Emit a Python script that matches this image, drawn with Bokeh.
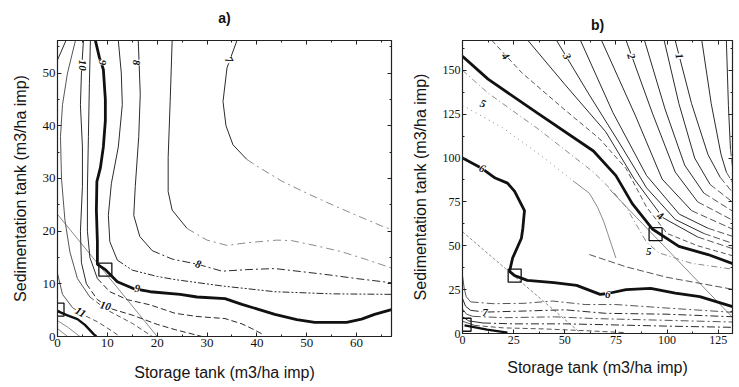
from math import pi
from bokeh.plotting import figure
from bokeh.models import Range1d, LinearAxis, SingleIntervalTicker, ColumnDataSource, LabelSet
from bokeh.layouts import row
from bokeh.embed import file_html
from bokeh.resources import INLINE

# ---------------- Panel a data (storage x, sedimentation y) ----------------
a_xmax, a_ymax = 67, 56.2
a_title = "a)"
a_c11_top = [(0, 52.5), (1.7, 56.2)]
a_c105 = [(3.6, 56.2), (2.0, 50), (1.0, 44), (0.6, 38), (0.8, 30), (1.5, 22), (2.5, 16), (4.0, 11),
          (6.5, 7.5), (10, 5), (15, 2.5), (19, 0)]
a_c10 = [(5.2, 56.2), (4.8, 50), (4.6, 44), (5.0, 36), (5.0, 28.5), (4.6, 20), (4.8, 14), (5.8, 10),
         (8, 7), (11, 5.2), (15.2, 4), (20, 2.3), (23.6, 1.3), (29, 0)]
a_c95 = [(6.6, 56.2), (6.4, 48), (6.2, 38), (6.0, 28), (6.0, 20), (6.5, 15), (8, 11), (10.5, 8.5),
         (14, 7), (18.6, 6), (23.6, 4.4), (28, 3.8), (33.6, 3.4), (37, 2.4), (39, 1.5), (41, 0.5)]
a_c9 = [(7.6, 56.2), (8.4, 53), (9.2, 50.7), (9.6, 45), (9.6, 41), (9.2, 36), (8.6, 32), (7.9, 29.4),
        (7.8, 24), (8, 18), (8, 13.7), (9.6, 12.7), (12, 10.4), (15.2, 9.1), (18.6, 8.5), (24.6, 8),
        (28, 7.5), (33.6, 7.2), (37, 6.1), (43.6, 4.2), (48, 3.2), (51.6, 2.7), (58, 2.7), (61, 3.3),
        (63.6, 4.2), (67, 5.1)]
a_c85 = [(12.2, 56.2), (12.8, 50), (13, 44), (12.2, 36), (10.8, 29), (10.2, 23), (10.5, 18), (12, 14.5),
         (15, 12.6), (20, 11.4), (23.6, 10.8), (33, 9.6), (43.6, 8.5), (55, 8.1), (67, 8)]
a_c8 = [(16.2, 56.2), (16.6, 46), (16.3, 38), (15.6, 28.5), (15.3, 23), (16.5, 19), (19, 16.3), (23, 14.7),
        (28.2, 13.7), (33, 12.4), (38, 12.7), (43.6, 12.9), (53.6, 11.8), (60, 11), (67, 10.2)]
a_c75 = [(23, 56.2), (22.6, 44.6), (22.2, 34), (22.2, 27.5), (23, 24), (26, 20.5), (30, 18.3), (34, 17.3),
         (38, 17.8), (44, 18.3), (47, 18.2), (52, 17.2), (57, 16.1), (62, 14.6), (67, 13)]
a_c7 = [(36, 56.2), (34, 51), (33.2, 44.6), (33.8, 40), (35.2, 36.4), (38, 33.6), (40.6, 32), (45, 29.5),
        (50, 27.2), (55.6, 24.8), (60, 23), (65, 21), (67, 20.3)]
a_c11 = [(0, 12), (1, 8), (3, 5.5), (5, 4.2), (8, 2.8), (11, 1), (12.5, 0)]
a_c12 = [(0, 4.8), (2, 4), (4, 3.3), (5.5, 2.2), (7.3, 0.4), (7.8, 0)]
a_c125 = [(0, 3), (2, 1.8), (4.5, 0)]
a_c13 = [(0, 1.5), (2, 0)]
a_diag = [(0, 23.2), (20, 0)]
a_box_x = [0, 9.6]
a_box_y = [5.1, 12.7]
a_lab_text = ["10", "9", "8", "7", "8", "9", "10", "11"]
a_lab_x = [5.0, 9.0, 15.9, 34.4, 28.2, 16.0, 9.6, 4.6]
a_lab_y = [51.5, 52.0, 52.0, 52.5, 13.7, 9.1, 5.8, 4.6]
a_lab_ang = [-pi / 2, -pi / 2, -pi / 2, -1.1, -0.3, -0.1, -0.25, -0.5]

# ---------------- Panel b data ----------------
b_xmax, b_ymax = 132, 167
b_title = "b)"
b_L1 = [(129, 167), (130, 130), (131, 105), (132, 95)]
b_L2 = [(117, 167), (121.6, 131), (126.4, 102), (129, 92), (133, 84)]
b_L3 = [(104, 167), (112, 131), (120, 102), (126, 89), (133, 79)]
b_L4 = [(98.6, 167), (105.8, 131), (113.5, 100), (121, 85), (133, 74)]
b_L5 = [(89, 167), (99, 128), (108.6, 96), (118, 80), (133, 69)]
b_L6 = [(80, 167), (92.8, 125.7), (104, 92), (115, 75), (133, 64)]
b_L7 = [(68, 167), (84.6, 124), (97.6, 88), (112, 70), (133, 59)]
b_L8 = [(57.7, 167), (73.5, 126), (90, 90), (106, 68), (120, 60), (133, 55)]
b_L9 = [(46, 167), (62, 136), (77, 108), (90, 83), (104, 65), (118, 57), (133, 51)]
b_L10 = [(32, 167), (50, 142), (70, 115), (84, 88), (98, 66), (115, 55), (133, 48)]
b_Ga = [(14.4, 167), (29, 148.6), (49.5, 128), (67, 111), (80, 94), (90, 72), (100, 57), (115, 50), (133, 44)]
b_c4 = [(0, 158), (12.5, 145), (36.5, 125.7), (64, 104), (75, 90), (83, 74), (93, 59.4), (105.8, 49.7),
        (120, 45), (133, 39.4)]
b_c5 = [(0, 150), (12.5, 137), (36.5, 117), (64, 92), (73.5, 81), (80, 72), (86, 60), (90, 52), (96, 46),
        (112, 40), (133, 36.5)]
b_c55 = [(0, 130), (20, 117), (40, 100), (54, 87), (62, 80), (66, 72), (69, 64), (71, 57), (73, 50), (75, 43)]
b_c57 = [(62, 45), (80, 38), (100, 32), (133, 25)]
b_c6 = [(0, 100), (9.6, 94), (16, 88.6), (22, 85.7), (25.5, 81), (30.3, 70), (29.5, 60), (28.8, 54.3),
        (24.5, 43), (23, 35.4), (25.5, 33), (31.7, 30.3), (44.7, 29), (55.8, 27.4), (67.3, 22.3), (71, 22.8),
        (80, 25), (92, 25.7), (104, 23), (116, 21), (133, 15)]
b_c65 = [(0, 33), (0.8, 26), (1.8, 21), (4, 18), (15, 17), (30, 17.2), (44, 18.5), (60, 16.5), (75, 16.5),
         (100, 14.5), (133, 12)]
b_c7 = [(0, 20), (1.5, 15.5), (4, 13.2), (11, 12.2), (30, 12.8), (50, 13.5), (70, 11.5), (100, 11), (133, 9.5)]
b_c75 = [(0, 14), (2, 11), (5, 9.8), (20, 9), (45, 9.5), (65, 8.5), (100, 7.5), (133, 6.5)]
b_c8 = [(0, 9.5), (3, 7.2), (10, 6), (25, 5.5), (50, 5.5), (70, 5), (100, 4.2), (133, 3.5)]
b_c85 = [(0, 7), (6, 4.6), (20, 3.2), (40, 2.6), (60, 1.6), (80, 0.5)]
b_c9 = [(1, 4.6), (5, 3.8), (12, 2.2), (22, 0.5)]
b_diag1 = [(0, 58), (58, 0)]
b_diag2 = [(72, 82), (133, 8)]
b_box_x = [1, 25.5, 94.4]
b_box_y = [5, 33, 56.6]
b_lab_text = ["4", "3", "2", "1", "5", "6", "6", "7", "4", "5"]
b_lab_x = [21, 51, 82.5, 106, 10, 9.6, 71, 11, 96.6, 91]
b_lab_y = [158, 158, 158, 158, 131, 94, 22.5, 12.2, 67, 47]
b_lab_ang = [-0.9, -1.1, -1.25, -1.35, -0.3, -0.4, 0.0, 0.0, -0.5, 0.0]

TICK_FONT = "Liberation Serif"
LABEL_FONT = "Liberation Sans"
DARK = "#2b2b2b"
MID = "#555555"
LIGHT = "#8a8a8a"


def draw(p, pts, color, width, dash="solid", split=None, dash2="solid", color2=None):
    xs = [q[0] for q in pts]
    ys = [q[1] for q in pts]
    if split is None:
        p.line(xs, ys, line_color=color, line_width=width, line_dash=dash)
    else:
        p.line(xs[:split + 1], ys[:split + 1], line_color=color, line_width=width, line_dash=dash)
        p.line(xs[split:], ys[split:], line_color=color2 or color, line_width=width, line_dash=dash2)


def make_fig(title, xmax, ymax, fw, fh, bl, br, bt, bb, interval, tick_size,
             xlab_standoff, ylab_standoff, title_standoff):
    p = figure(frame_width=fw, frame_height=fh,
               x_range=Range1d(0, xmax), y_range=Range1d(0, ymax),
               output_backend="svg", toolbar_location=None,
               min_border_left=bl, min_border_right=br, min_border_top=bt, min_border_bottom=bb)
    p.xgrid.visible = False
    p.ygrid.visible = False
    p.outline_line_color = "#222222"
    p.outline_line_width = 1.2
    p.background_fill_color = "white"
    p.border_fill_color = "white"
    for ax in (p.xaxis[0], p.yaxis[0]):
        ax.ticker = SingleIntervalTicker(interval=interval, num_minor_ticks=2)
        ax.major_label_text_font = TICK_FONT
        ax.major_label_text_font_size = tick_size
        ax.major_label_text_color = "#111111"
        ax.major_tick_in = 4
        ax.major_tick_out = 0
        ax.minor_tick_in = 2
        ax.minor_tick_out = 0
        ax.axis_line_color = "#222222"
        ax.major_tick_line_color = "#222222"
        ax.minor_tick_line_color = "#222222"
        ax.major_label_standoff = 2
        ax.axis_label_text_font = LABEL_FONT
        ax.axis_label_text_font_style = "normal"
        ax.axis_label_text_font_size = "16px"
        ax.axis_label_text_color = "#151515"
    p.xaxis.axis_label = "Storage tank (m3/ha imp)"
    p.yaxis.axis_label = "Sedimentation tank (m3/ha imp)"
    p.xaxis.axis_label_standoff = xlab_standoff
    p.yaxis.axis_label_standoff = ylab_standoff
    for loc in ("above", "right"):
        ax = LinearAxis(ticker=SingleIntervalTicker(interval=interval, num_minor_ticks=2),
                        major_label_text_font_size="0px", major_label_text_color=None,
                        major_label_standoff=0, axis_label_standoff=0,
                        major_tick_in=4, major_tick_out=0, minor_tick_in=2, minor_tick_out=0,
                        axis_line_color="#222222", major_tick_line_color="#222222",
                        minor_tick_line_color="#222222")
        if loc == "above":
            ax.axis_label = title
            ax.axis_label_standoff = title_standoff
            ax.axis_label_text_font = LABEL_FONT
            ax.axis_label_text_font_size = "14px"
            ax.axis_label_text_font_style = "bold"
            ax.axis_label_text_color = "#111111"
        p.add_layout(ax, loc)
    return p


def add_labels(p, xs, ys, texts, angs, size):
    src = ColumnDataSource(dict(x=xs, y=ys, text=texts, angle=angs))
    p.add_layout(LabelSet(x="x", y="y", text="text", angle="angle", source=src,
                          text_font=TICK_FONT, text_font_size=size, text_font_style="bold italic",
                          text_color="#111111", text_align="center", text_baseline="middle",
                          background_fill_color="white", background_fill_alpha=1.0))


# ---------------- Panel a ----------------
pa = make_fig(a_title, a_xmax, a_ymax, 334, 296, 57, 9, 37, 52, 10, "13px", 14, 11, 15)
draw(pa, a_diag, LIGHT, 1)
draw(pa, a_c11_top, DARK, 1)
draw(pa, a_c105, MID, 1, "solid", 8, "5 3")
draw(pa, a_c10, DARK, 1, "solid", 7, "6 3")
draw(pa, a_c95, DARK, 1, "solid", 6, "6 3")
draw(pa, a_c9, "#111111", 2.8)
draw(pa, a_c85, DARK, 1, "solid", 7, "7 2 2 2 2 2")
draw(pa, a_c8, DARK, 1, "solid", 6, "8 3 2 3")
draw(pa, a_c75, DARK, 1, "solid", 5, "8 4 2 4", LIGHT)
draw(pa, a_c7, DARK, 1, "solid", 5, "8 4 2 4", LIGHT)
draw(pa, a_c11, MID, 1, "solid", 2, "5 3")
draw(pa, a_c12, "#111111", 2.4)
draw(pa, a_c125, LIGHT, 1)
draw(pa, a_c13, LIGHT, 1)
pa.scatter(a_box_x, a_box_y, marker="square", size=13, fill_color=None, line_color="#111111", line_width=1.3)
add_labels(pa, a_lab_x, a_lab_y, a_lab_text, a_lab_ang, "11px")

# ---------------- Panel b ----------------
pb = make_fig(b_title, b_xmax, b_ymax, 270, 293, 62, 2, 40, 52, 25, "12px", 12, 11, 8)
draw(pb, b_diag1, LIGHT, 1, "3 2")
draw(pb, b_diag2, LIGHT, 1)
for line in (b_L1, b_L2, b_L3, b_L4, b_L5, b_L6, b_L7, b_L8, b_L9, b_L10):
    draw(pb, line, DARK, 1, "solid", len(line) - 2, "7 3", MID)
draw(pb, b_Ga, MID, 1, "5 3")
draw(pb, b_c4, "#111111", 2.8)
draw(pb, b_c5, LIGHT, 1, "6 3 1 3")
draw(pb, b_c55, LIGHT, 1, "1 4", 3, "solid")
draw(pb, b_c57, MID, 1, "7 3")
draw(pb, b_c6, "#111111", 2.8)
draw(pb, b_c65, MID, 1, "solid", 3, "8 3 2 3")
draw(pb, b_c7, DARK, 1, "solid", 2, "8 3 2 3")
draw(pb, b_c75, MID, 1, "solid", 2, "8 3 2 3")
draw(pb, b_c8, DARK, 1, "solid", 2, "8 3 2 3")
draw(pb, b_c85, MID, 1, "solid", 1, "5 3")
draw(pb, b_c9, "#111111", 2.4)
pb.scatter(b_box_x, b_box_y, marker="square", size=13, fill_color=None, line_color="#111111", line_width=1.3)
add_labels(pb, b_lab_x, b_lab_y, b_lab_text, b_lab_ang, "11px")

layout = row(pa, pb)
open("out.html", "w").write(file_html(layout, INLINE))
